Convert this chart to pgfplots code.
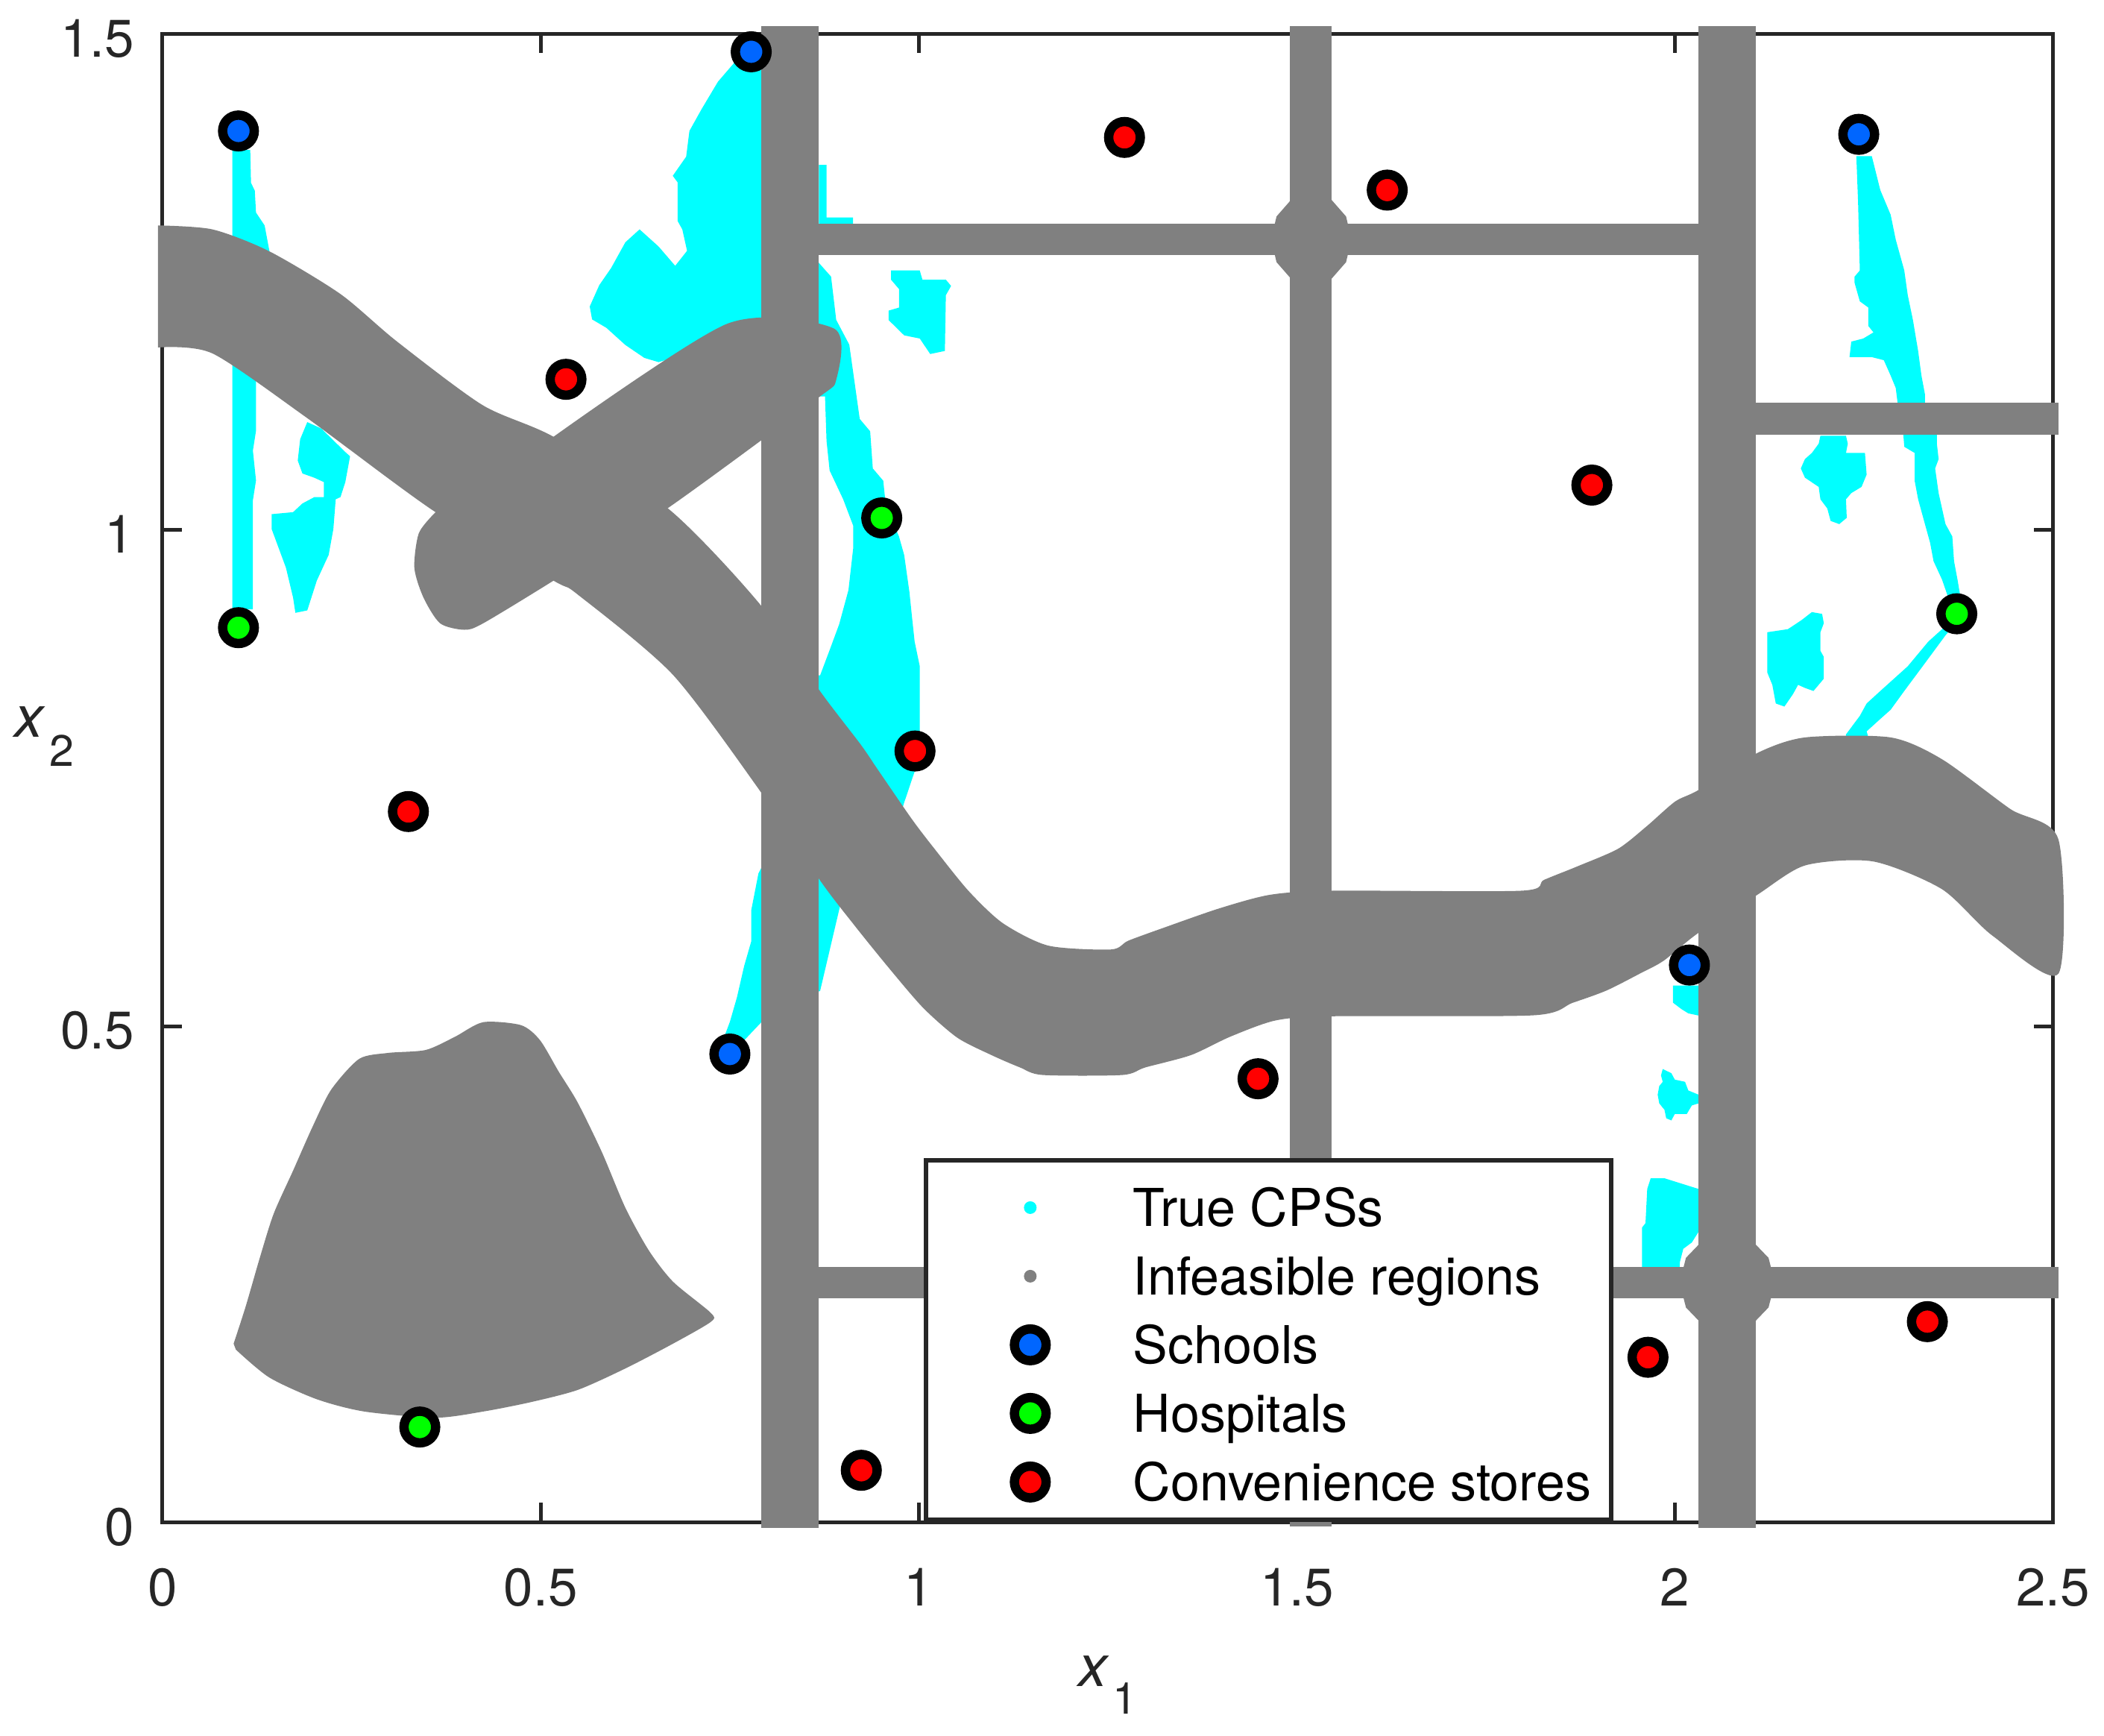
\documentclass[border=0pt]{standalone}
\usepackage{fontspec}
\setmainfont{TeX Gyre Heros}
\usepackage{pgfplots}
\pgfplotsset{compat=1.18}

\definecolor{cps}{RGB}{0,255,255}
\definecolor{infeas}{RGB}{128,128,128}
\definecolor{school}{RGB}{0,102,255}
\definecolor{hosp}{RGB}{0,255,0}
\definecolor{store}{RGB}{255,0,0}
\definecolor{axgray}{RGB}{38,38,38}

\pgfplotsset{
  cpsfill/.style={fill=cps, draw=none, forget plot},
  grayfill/.style={fill=infeas, draw=none, forget plot},
  graysmooth/.style={fill=infeas, draw=none, forget plot, smooth, tension=0.45},
  site/.style={only marks, mark=*, mark size=2.125pt, forget plot,
    mark options={draw=black, line width=1.25pt, fill=#1}},
}
\newcommand{\lbox}{\path[draw=none] (-11.3pt,-4.9pt) rectangle (13.8pt,6.1pt);}

\begin{document}
\begin{tikzpicture}
\begin{axis}[
  scale only axis, width=253.6pt, height=199.6pt,
  xmin=0, xmax=2.5, ymin=0, ymax=1.5,
  xtick={0,0.5,1,1.5,2,2.5}, ytick={0,0.5,1,1.5},
  clip=false,
  axis line style={axgray, line width=0.5pt},
  tick style={axgray, line width=0.5pt},
  major tick length=2.6pt, tick align=inside,
  /pgf/number format/assume math mode=true,
  ticklabel style={font=\fontsize{7.1}{8}\selectfont, text=axgray, inner sep=0pt},
  xticklabel style={yshift=-6pt},
  yticklabel style={xshift=-3.6pt, yshift=-0.6pt},
  xlabel={\textit{x}\hspace{0.4pt}\raisebox{-3.7pt}{\fontsize{5.9}{6}\selectfont 1}},
  ylabel={\textit{x}\hspace{0.6pt}\raisebox{-3.9pt}{\fontsize{5.9}{6}\selectfont 2}},
  every axis x label/.style={at={(axis description cs:0.5,-0.1101)}, anchor=base,
    inner sep=0pt, font=\fontsize{7.8}{9}\selectfont, text=axgray},
  every axis y label/.style={at={(axis description cs:-0.0791,0.5277)}, anchor=base west,
    inner sep=0pt, font=\fontsize{7.8}{9}\selectfont, text=axgray},
  legend cell align=left,
  legend style={at={(axis cs:1.9187,0)}, anchor=south east, draw=axgray, line width=0.6pt,
    fill=white, inner xsep=2.7pt, inner ysep=0.2pt, row sep=-1.8pt, column sep=0pt,
    font=\fontsize{7}{8}\selectfont,
    nodes={draw=none, inner sep=0pt, text height=7.1pt, text depth=2.1pt}},
]
% legend
\addlegendimage{legend image code/.code={\fill[cps, draw=none] (0pt,0pt) circle (0.85pt); \lbox}}
\addlegendentry{True CPSs}
\addlegendimage{legend image code/.code={\fill[infeas, draw=none] (0pt,0pt) circle (0.85pt); \lbox}}
\addlegendentry{Infeasible regions}
\addlegendimage{legend image code/.code={\draw[black, line width=1.25pt, fill=school] (0pt,0pt) circle (2.125pt); \lbox}}
\addlegendentry{Schools}
\addlegendimage{legend image code/.code={\draw[black, line width=1.25pt, fill=hosp] (0pt,0pt) circle (2.125pt); \lbox}}
\addlegendentry{Hospitals}
\addlegendimage{legend image code/.code={\draw[black, line width=1.25pt, fill=store] (0pt,0pt) circle (2.125pt); \lbox}}
\addlegendentry{Convenience stores}

% true CPSs
\addplot[cpsfill] coordinates {(0.0922,1.383) (0.116,1.383) (0.117,1.35) (0.122,1.342) (0.1236,1.32) (0.135,1.307) (0.1414,1.281) (0.1414,1.2) (0.1236,1.16) (0.1236,1.10) (0.1195,1.08) (0.1236,1.05) (0.1195,1.03) (0.1195,0.92) (0.0922,0.92)};
\addplot[cpsfill] coordinates {(0.1914,1.1088) (0.210,1.1023) (0.2417,1.0786) (0.248,1.0743) (0.2417,1.0483) (0.2353,1.0332) (0.229,1.031) (0.2259,1.001) (0.2197,0.975) (0.204,0.949) (0.1914,0.919) (0.1757,0.9166) (0.1726,0.932) (0.1632,0.962) (0.1506,0.988) (0.1443,1.001) (0.1443,1.016) (0.1726,1.018) (0.185,1.0268) (0.2008,1.0332) (0.2134,1.0332) (0.2134,1.0483) (0.2008,1.0527) (0.185,1.057) (0.1788,1.07) (0.182,1.0915)};
\addplot[cpsfill] coordinates {(0.778,1.49) (0.7564,1.4713) (0.7344,1.4518) (0.7125,1.4238) (0.6967,1.4022) (0.6924,1.3763) (0.6747,1.357) (0.681,1.3505) (0.681,1.3116) (0.6873,1.303) (0.6936,1.2814) (0.6779,1.2663) (0.656,1.2857) (0.6308,1.303) (0.612,1.29) (0.5932,1.2641) (0.5775,1.2468) (0.5649,1.2253) (0.568,1.2123) (0.5869,1.2038) (0.612,1.1865) (0.6371,1.1735) (0.656,1.1692) (0.6747,1.1735) (0.72,1.15) (0.80,1.10) (0.80,1.49)};
\addplot[cpsfill] coordinates {(0.868,1.368) (0.878,1.368) (0.878,1.315) (0.913,1.315) (0.913,1.305) (0.868,1.305)};
\addplot[cpsfill] coordinates {(0.86,1.276) (0.884,1.2554) (0.8908,1.2118) (0.9081,1.1868) (0.915,1.1494) (0.9219,1.112) (0.9357,1.0995) (0.9392,1.0621) (0.953,1.0497) (0.9564,1.0248) (0.9738,0.9935) (0.9807,0.9748) (0.9876,0.9375) (0.991,0.9125) (0.9945,0.8876) (1.0013,0.8627) (1.0013,0.7878) (0.9945,0.7567) (0.9807,0.7254) (0.97,0.70) (0.86,0.80) (0.86,0.8535) (0.8695,0.8535) (0.8821,0.879) (0.8947,0.905) (0.907,0.9395) (0.9134,0.9826) (0.9134,1.0041) (0.9,1.031) (0.8821,1.06) (0.878,1.09) (0.876,1.1346) (0.86,1.1346)};
\addplot[cpsfill] coordinates {(0.80,0.665) (0.7922,0.66) (0.788,0.654) (0.7784,0.6166) (0.7784,0.5853) (0.769,0.5604) (0.7596,0.5292) (0.7502,0.5043) (0.744,0.4918) (0.7502,0.48) (0.769,0.4856) (0.7922,0.5043) (0.85,0.53) (0.8695,0.5355) (0.8945,0.6166) (0.90,0.635) (0.868,0.66)};
\addplot[cpsfill] coordinates {(0.9633,1.2616) (1.0013,1.2616) (1.0048,1.2523) (1.0358,1.2523) (1.0427,1.246) (1.0358,1.2367) (1.0345,1.1805) (1.0151,1.1774) (1.0013,1.193) (0.9807,1.1962) (0.96,1.2117) (0.96,1.2211) (0.9738,1.2242) (0.9738,1.2429) (0.9633,1.2523)};
\addplot[cpsfill] coordinates {(2.2397,1.3769) (2.242,1.3302) (2.2443,1.2616) (2.2374,1.2554) (2.2374,1.2491) (2.2443,1.2305) (2.2556,1.2242) (2.2556,1.2056) (2.2624,1.1992) (2.2488,1.193) (2.233,1.1899) (2.2307,1.1743) (2.2601,1.1743) (2.276,1.1712) (2.2851,1.1556) (2.2918,1.1432) (2.2964,1.115) (2.3304,1.115) (2.3304,1.137) (2.3258,1.1556) (2.3214,1.1805) (2.3145,1.2118) (2.3077,1.2367) (2.3031,1.2616) (2.2918,1.2927) (2.2851,1.3177) (2.2714,1.3426) (2.2601,1.3769)};
\addplot[cpsfill] coordinates {(2.3009,1.105) (2.3462,1.105) (2.3462,1.087) (2.3485,1.0715) (2.3439,1.0621) (2.3485,1.0372) (2.3576,1.006) (2.3666,0.9935) (2.3689,0.9686) (2.3735,0.9499) (2.3779,0.93) (2.3621,0.93) (2.3531,0.9499) (2.3418,0.9686) (2.3372,0.9873) (2.3304,1.006) (2.3214,1.031) (2.3168,1.0497) (2.3168,1.0777) (2.3031,1.0839)};
\addplot[cpsfill] coordinates {(2.3621,0.905) (2.3531,0.9001) (2.3349,0.8876) (2.3077,0.8627) (2.2895,0.8502) (2.2714,0.8378) (2.2533,0.8252) (2.2443,0.8127) (2.226,0.794) (2.226,0.78) (2.26,0.78) (2.2533,0.7971) (2.2714,0.8096) (2.2851,0.8189) (2.3031,0.8378) (2.3304,0.8658) (2.3576,0.8939) (2.37,0.905)};
\addplot[cpsfill] coordinates {(2.1922,1.0951) (2.226,1.0951) (2.2284,1.087) (2.226,1.0777) (2.2511,1.0777) (2.2533,1.0559) (2.2466,1.0435) (2.233,1.0372) (2.226,1.031) (2.227,1.0123) (2.2171,1.006) (2.2057,1.0092) (2.2013,1.0217) (2.1922,1.031) (2.1899,1.0435) (2.1717,1.0528) (2.1663,1.0621) (2.1717,1.0715) (2.1809,1.0777) (2.1899,1.087)};
\addplot[cpsfill] coordinates {(2.1219,0.897) (2.1492,0.9001) (2.1672,0.9092) (2.1809,0.9173) (2.1944,0.9155) (2.1967,0.9061) (2.1922,0.897) (2.1922,0.8783) (2.1967,0.8721) (2.1967,0.8502) (2.1899,0.844) (2.183,0.8378) (2.1717,0.8409) (2.1627,0.844) (2.1559,0.8346) (2.1446,0.8221) (2.1332,0.8252) (2.1286,0.844) (2.1219,0.8565)};
\addplot[cpsfill] coordinates {(1.9972,0.541) (2.0312,0.541) (2.0312,0.5107) (2.0175,0.5129) (2.0084,0.5172) (1.9972,0.5237)};
\addplot[cpsfill] coordinates {(1.9837,0.4568) (1.9951,0.4526) (1.9997,0.4461) (2.0132,0.4439) (2.0175,0.4352) (2.0312,0.4309) (2.0312,0.4222) (2.0222,0.4201) (2.0155,0.4115) (1.9997,0.4115) (1.9951,0.405) (1.9883,0.4072) (1.986,0.4157) (1.9791,0.4222) (1.977,0.4309) (1.9791,0.4396) (1.9837,0.4439) (1.9814,0.4504)};
\addplot[cpsfill] coordinates {(1.9678,0.3467) (1.986,0.3467) (2.0132,0.3402) (2.0312,0.3359) (2.0312,0.2929) (2.0222,0.282) (2.0109,0.2756) (2.0065,0.2626) (2.0042,0.24) (1.9564,0.24) (1.9564,0.2971) (1.9609,0.3015) (1.9632,0.3359)};

% infeasible regions
\addplot[grayfill] coordinates {(0.792,-0.006) (0.868,-0.006) (0.868,1.508) (0.792,1.508)};
\addplot[grayfill] coordinates {(1.491,-0.004) (1.546,-0.004) (1.546,1.508) (1.491,1.508)};
\addplot[grayfill] coordinates {(2.031,-0.006) (2.107,-0.006) (2.107,1.508) (2.031,1.508)};
\addplot[grayfill] coordinates {(0.83,1.277) (2.07,1.277) (2.07,1.3085) (0.83,1.3085)};
\addplot[grayfill] coordinates {(2.07,1.096) (2.507,1.096) (2.507,1.128) (2.07,1.128)};
\addplot[grayfill] coordinates {(0.83,0.226) (2.507,0.226) (2.507,0.257) (0.83,0.257)};
\addplot[grayfill] coordinates {(1.572,1.293) (1.565,1.316) (1.5455,1.333) (1.519,1.339) (1.4925,1.333) (1.473,1.316) (1.466,1.293) (1.473,1.270) (1.4925,1.253) (1.519,1.247) (1.5455,1.253) (1.565,1.270)};
\addplot[grayfill] coordinates {(2.132,0.2415) (2.1236,0.2665) (2.1005,0.2848) (2.069,0.2915) (2.0375,0.2848) (2.0144,0.2665) (2.006,0.2415) (2.0144,0.2165) (2.0375,0.1982) (2.069,0.1915) (2.1005,0.1982) (2.1236,0.2165)};
\addplot[graysmooth] coordinates {(-0.006,1.307) (0.066,1.303) (0.141,1.281) (0.235,1.238) (0.31,1.19) (0.423,1.126) (0.517,1.094) (0.668,1.022) (0.788,0.927) (0.87,0.837) (0.9229,0.7841) (0.9454,0.759) (0.9906,0.7089) (1.0207,0.6788) (1.0659,0.6362) (1.1113,0.6037) (1.1715,0.5811) (1.2543,0.5773) (1.2769,0.5861) (1.3221,0.5987) (1.3974,0.6187) (1.4653,0.6325) (1.5482,0.6365) (1.7968,0.6365) (1.8269,0.6475) (1.872,0.6614) (1.9247,0.6788) (1.9624,0.7014) (2.0001,0.7264) (2.031,0.738) (2.108,0.775) (2.172,0.791) (2.285,0.791) (2.353,0.769) (2.443,0.719) (2.507,0.688)
  (2.507,0.553) (2.42,0.591) (2.353,0.638) (2.262,0.666) (2.172,0.662) (2.108,0.632) (2.0303,0.5937) (1.985,0.566) (1.9548,0.5535) (1.9096,0.536) (1.8644,0.5235) (1.8118,0.5109) (1.5482,0.5100) (1.4727,0.5059) (1.4125,0.4896) (1.3598,0.4708) (1.2995,0.4584) (1.2693,0.4508) (1.1639,0.4508) (1.1338,0.4584) (1.0962,0.4708) (1.0509,0.4884) (1.0057,0.5185) (0.9605,0.5586) (0.9153,0.6012) (0.8701,0.6462) (0.792,0.735) (0.675,0.854) (0.549,0.935) (0.517,0.949) (0.361,1.018) (0.191,1.113) (0.066,1.178) (-0.006,1.184)};
\addplot[graysmooth] coordinates {(0.361,1.018) (0.339,0.997) (0.333,0.962) (0.345,0.932) (0.367,0.906) (0.399,0.8995) (0.424,0.906) (0.517,0.949) (0.668,1.022) (0.863,1.131) (0.891,1.152) (0.888,1.203) (0.747,1.208) (0.517,1.094)};
\addplot[graysmooth] coordinates {(0.094,0.180) (0.110,0.2176) (0.129,0.2675) (0.147,0.311) (0.173,0.355) (0.198,0.398) (0.223,0.436) (0.260,0.467) (0.298,0.473) (0.348,0.476) (0.386,0.489) (0.424,0.504) (0.474,0.501) (0.499,0.486) (0.524,0.454) (0.549,0.423) (0.581,0.373) (0.612,0.317) (0.643,0.274) (0.675,0.2425) (0.725,0.211) (0.725,0.202) (0.675,0.180) (0.612,0.155) (0.549,0.1334) (0.4865,0.121) (0.424,0.1116) (0.361,0.1054) (0.267,0.1116) (0.204,0.124) (0.141,0.146) (0.097,0.174)};

% facilities
\addplot[site=school] coordinates {(0.1004,1.4022) (0.7784,1.482) (2.2429,1.3988) (2.019,0.5616) (0.7502,0.4719)};
\addplot[site=hosp] coordinates {(0.1004,0.9016) (0.951,1.0122) (2.3725,0.9156) (0.3402,0.096)};
\addplot[site=store] coordinates {(0.5335,1.1519) (1.272,1.3957) (1.6194,1.3426) (1.890,1.0453) (0.3251,0.7163) (0.995,0.7773) (1.4486,0.447) (1.9642,0.1663) (2.3336,0.2022) (0.924,0.0524)};

\coordinate (sw) at (rel axis cs:0,0);
\coordinate (ne) at (rel axis cs:1,1);
\end{axis}
\pgfresetboundingbox
\path ([shift={(-21.8pt,-28.65pt)}]sw) rectangle ([shift={(6.82pt,4.55pt)}]ne);
\end{tikzpicture}
\end{document}
